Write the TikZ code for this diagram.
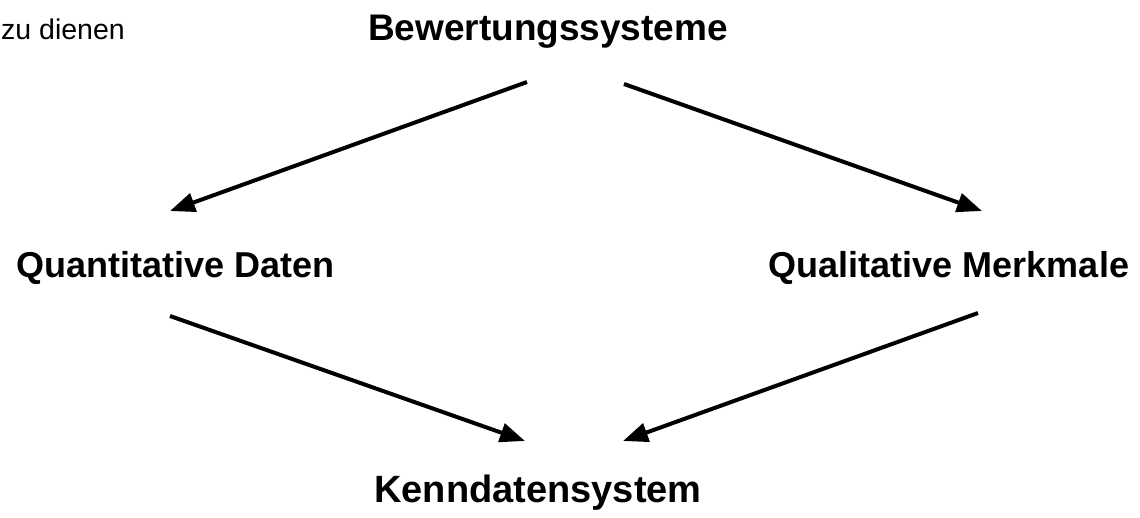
\documentclass[tikz,border=0pt]{standalone}
\usepackage{fontspec}
\setmainfont{Liberation Sans}
\usetikzlibrary{arrows.meta}
\begin{document}
\begin{tikzpicture}[x=1pt,y=-1pt,
  lbl/.style={font=\bfseries\fontsize{36}{40}\selectfont, inner sep=0pt, anchor=base},
  conn/.style={line width=4pt, -{Triangle[length=25pt,width=19pt]}}]
\useasboundingbox (0,0) rectangle (1140,518);
\node[anchor=base east, font=\fontsize{28.5}{32}\selectfont, inner sep=0pt] (note) at (125,40) {zu dienen};
\node[lbl, font=\bfseries\fontsize{37}{41}\selectfont] (bew) at (548,41) {Bewertungssysteme};
\node[lbl] (quant) at (176,278) {Quantitative Daten};
\node[lbl] (qual) at (949,278) {Qualitative Merkmale};
\node[lbl, font=\bfseries\fontsize{38}{42}\selectfont] (kenn) at (538,502) {Kenndatensystem};
\coordinate (bewL) at (527,82);
\coordinate (bewR) at (624,84);
\coordinate (quantT) at (170,211);
\coordinate (qualT) at (982,211);
\coordinate (quantB) at (170,316);
\coordinate (qualB) at (978,313);
\coordinate (kennL) at (525,441);
\coordinate (kennR) at (623,441);
\draw[conn] (bewL) -- (quantT);
\draw[conn] (bewR) -- (qualT);
\draw[conn] (quantB) -- (kennL);
\draw[conn] (qualB) -- (kennR);
\end{tikzpicture}
\end{document}
